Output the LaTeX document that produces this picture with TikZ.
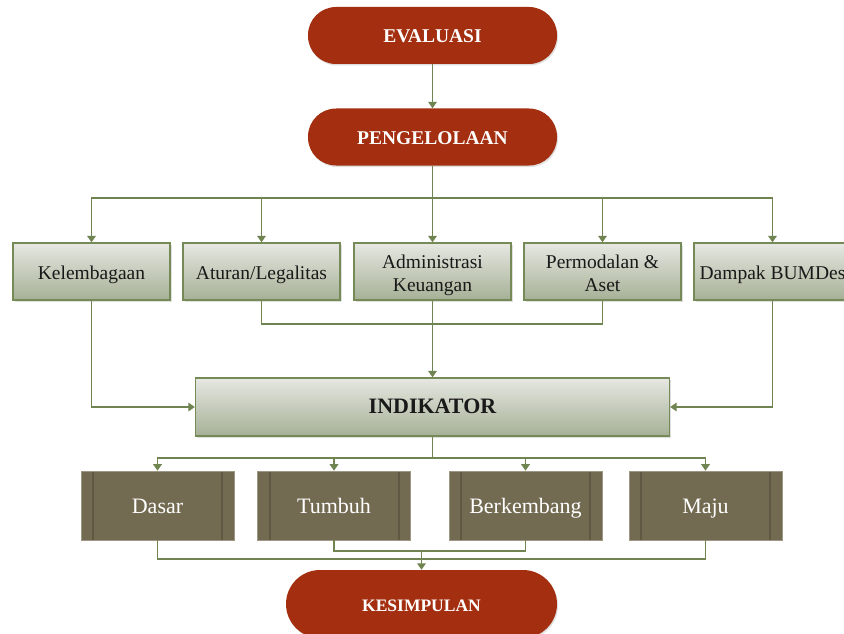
\documentclass[tikz,border=0pt]{standalone}
\usepackage{fontspec}
\setmainfont{Liberation Serif}
\usetikzlibrary{arrows.meta,shadows}
\definecolor{pillred}{RGB}{163,47,16}
\definecolor{lnk}{RGB}{112,132,82}
\definecolor{gtop}{RGB}{230,232,226}
\definecolor{gbot}{RGB}{166,176,150}
\definecolor{gbord}{RGB}{118,138,88}
\definecolor{brownf}{RGB}{115,106,82}
\definecolor{brownd}{RGB}{96,88,67}
\definecolor{txtd}{RGB}{25,25,25}
\tikzset{
  pill/.style={rectangle, rounded corners=28pt, fill=pillred, text=white,
    minimum width=249pt, minimum height=57pt, inner sep=0pt,
    text height=16pt, text depth=2pt,
    font=\fontsize{19.5}{23}\selectfont\bfseries,
    drop shadow={shadow xshift=1pt, shadow yshift=-1.5pt, opacity=0.25}},
  gbox/.style={rectangle, draw=gbord, line width=1.3pt, top color=gtop, bottom color=gbot,
    minimum width=157pt, minimum height=57pt, inner sep=0pt, align=center,
    text=txtd, font=\fontsize{19.5}{23}\selectfont,
    text height=19pt, text depth=4pt,
    drop shadow={shadow xshift=1.5pt, shadow yshift=-1.5pt, opacity=0.25}},
  twoline/.style={text height=39pt, text depth=0pt},
  bbox/.style={rectangle, draw=brownf!70!white, line width=0.6pt, fill=brownf,
    minimum width=153pt, minimum height=69pt, inner sep=0pt, text=white,
    text height=19pt, text depth=4pt,
    font=\fontsize{22}{26}\selectfont,
    path picture={
      \draw[brownd, line width=2pt] ([xshift=12pt]path picture bounding box.north west) -- ([xshift=12pt]path picture bounding box.south west);
      \draw[brownd, line width=2pt] ([xshift=-12pt]path picture bounding box.north east) -- ([xshift=-12pt]path picture bounding box.south east);
    }},
  conn/.style={draw=lnk, line width=1.7pt},
  arr/.style={conn, -{Triangle[length=6.5pt,width=8.5pt]}}
}
\begin{document}
\begin{tikzpicture}[x=1pt,y=-1pt]
\useasboundingbox (0,0) rectangle (844,634);
\fill[white] (0,0) rectangle (844,634);

\node[pill] (ev) at (432.5,35.5) {EVALUASI};
\node[pill] (pg) at (432.5,137) {PENGELOLAAN};

\node[gbox] (k1) at (91.5,271.5) {Kelembagaan};
\node[gbox] (k2) at (261.5,271.5) {Aturan/Legalitas};
\node[gbox, twoline] (k3) at (432.5,271.5) {Administrasi\\Keuangan};
\node[gbox, twoline] (k4) at (602.5,271.5) {Permodalan \&\\Aset};
\node[gbox] (k5) at (772.5,271.5) {Dampak BUMDes};

\node[gbox, minimum width=474pt, minimum height=58pt, text height=16pt, text depth=4pt,
  font=\fontsize{22}{26}\selectfont\bfseries] (ind) at (432.5,407) {INDIKATOR};

\node[bbox] (b1) at (157.5,505.5) {Dasar};
\node[bbox] (b2) at (334,505.5) {Tumbuh};
\node[bbox] (b3) at (525.5,505.5) {Berkembang};
\node[bbox] (b4) at (705.5,505.5) {Maju};

\node[pill, minimum width=271pt, minimum height=68pt, rounded corners=34pt,
  font=\fontsize{17.5}{21}\selectfont\bfseries] (ks) at (421.5,604) {KESIMPULAN};

\coordinate (h1) at (432.5,198);
\coordinate (j1) at (432.5,324);
\coordinate (h2) at (432.5,458);
\coordinate (m1) at (421.5,559);
\coordinate (m2) at (421.5,551);

\draw[arr] (ev) -- (pg);
\draw[conn] (pg) -- (h1);
\draw[arr] (h1) -| (k1);
\draw[arr] (h1) -| (k2);
\draw[arr] (h1) -- (k3);
\draw[arr] (h1) -| (k4);
\draw[arr] (h1) -| (k5);

\draw[conn] (k2) |- (j1) -| (k4);
\draw[arr] (k3) -- (ind);
\draw[arr] (k1) |- (ind);
\draw[arr] (k5) |- (ind);

\draw[conn] (ind) -- (h2);
\draw[arr] (h2) -| (b1);
\draw[arr] (h2) -| (b2);
\draw[arr] (h2) -| (b3);
\draw[arr] (h2) -| (b4);

\draw[conn] (b1) |- (m1) -| (b4);
\draw[conn] (b2) |- (m2) -| (b3);
\draw[arr] (m2) -- (ks);
\end{tikzpicture}
\end{document}
